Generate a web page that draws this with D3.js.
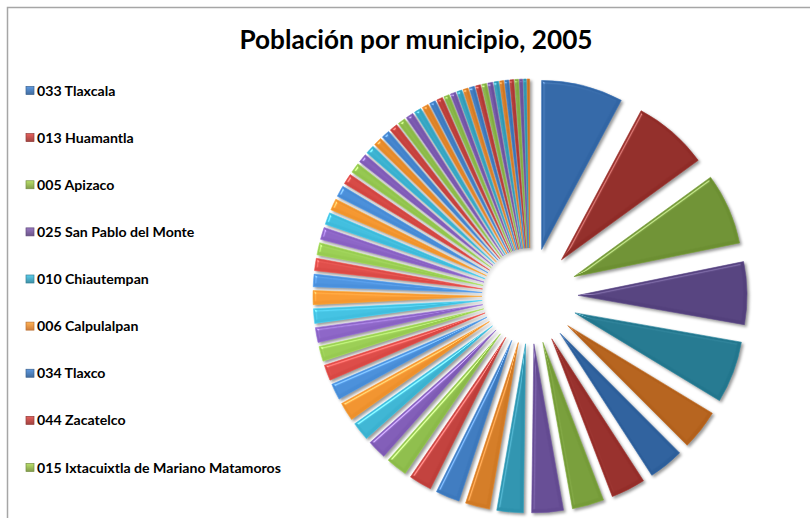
<!DOCTYPE html>
<html>
<head>
<meta charset="utf-8">
<script src="https://cdn.jsdelivr.net/npm/d3@7/dist/d3.min.js"></script>
<style>
  html, body { margin: 0; padding: 0; background: #fff; }
  svg { display: block; }
</style>
</head>
<body>
<script>
// ---- DATA (Tlaxcala, población por municipio, 2005) ----
const categories = [
  "033 Tlaxcala", "013 Huamantla", "005 Apizaco", "025 San Pablo del Monte", "010 Chiautempan",
  "006 Calpulalpan", "034 Tlaxco", "044 Zacatelco", "015 Ixtacuixtla de Mariano Matamoros",
  "018 Contla de Juan Cuamatzi", "043 Yauhquemehcan", "031 Tetla de la Solidaridad",
  "041 Papalotla de Xicohténcatl", "024 Panotla", "023 Nativitas", "036 Totolac", "028 Teolocholco",
  "039 Xaloztoc", "019 Tepetitla de Lardizábal", "021 Nanacamilpa de Mariano Arista",
  "048 La Magdalena Tlaltelulco", "026 Santa Cruz Tlaxcala", "004 Atltzayanca",
  "007 El Carmen Tequexquitla", "014 Hueyotlipan", "030 Terrenate", "008 Cuapiaxtla",
  "038 Tzompantepec", "002 Apetatitlán de Antonio Carvajal", "042 Xicohtzinco", "032 Tetlatlahuca",
  "027 Tenancingo", "029 Tepeyanco", "050 San Francisco Tetlanohcan", "040 Xaltocan",
  "001 Amaxac de Guerrero", "017 Mazatecochco de José María Morelos",
  "037 Ziltlaltépec de Trinidad Sánchez Santos", "020 Sanctórum de Lázaro Cárdenas", "012 Españita",
  "058 Santa Catarina Ayometla", "016 Ixtenco", "053 San Juan Huactzinco", "056 Santa Ana Nopalucan",
  "059 Santa Cruz Quilehtla", "003 Atlangatepec", "045 Benito Juárez", "052 San José Teacalco",
  "022 Acuamanala de Miguel Hidalgo", "049 San Damián Texóloc", "035 Tocatlán",
  "054 San Lorenzo Axocomanitla", "009 Cuaxomulco", "057 Santa Apolonia Teacalco",
  "011 Muñoz de Domingo Arenas", "046 Emiliano Zapata", "060 Santa Isabel Xiloxoxtla",
  "051 San Jerónimo Zacualpan", "055 San Lucas Tecopilco", "047 Lázaro Cárdenas"
];
const population = [
  83748, 77076, 73097, 64107, 63300, 41196, 36077, 35316, 32540, 32341,
  27005, 24995, 24616, 23391, 21863, 19606, 19066, 19037, 16653, 15994,
  15256, 15224, 14889, 14289, 12813, 12575, 12498, 12497, 12268, 11794,
  11473, 10879, 10302, 9081, 8963, 8567, 8357, 8174, 7789, 7695,
  7307, 6576, 6279, 6207, 5644, 5387, 5205, 5155, 5129, 4951,
  4893, 4817, 4710, 4030, 4017, 3892, 3803, 3213, 2907, 2548
];
const legendShown = 9; // the legend box only shows the first nine entries
const titleText = "Población por municipio, 2005";

// Excel-like palette: base (legend), shade on dark side and lit side
const paletteBase  = ["#4F81BD", "#C0504D", "#9BBB59", "#8064A2", "#4BACC6", "#F79646"];
const paletteDark  = ["#2A5A95", "#8A2925", "#6C8F32", "#53407C", "#22768D", "#B05E1A"];
const paletteLight = ["#4A90DC", "#DC4A46", "#98CC52", "#8A62C4", "#40BEDE", "#F5972F"];

// ---- LAYOUT ----
const W = 810, H = 518;
const cx = 530, cy = 296, R = 169, explode = 48;

const svg = d3.select("body").append("svg").attr("width", W).attr("height", H);

const defs = svg.append("defs");
const f = defs.append("filter").attr("id", "bevel")
  .attr("x", "-30%").attr("y", "-30%").attr("width", "160%").attr("height", "160%")
  .attr("color-interpolation-filters", "sRGB");
f.append("feGaussianBlur").attr("in", "SourceAlpha").attr("stdDeviation", 1.4).attr("result", "blur");
const spec = f.append("feSpecularLighting").attr("in", "blur").attr("surfaceScale", 2.5)
  .attr("specularConstant", 0.6).attr("specularExponent", 30).attr("lighting-color", "#ffffff").attr("result", "spec");
spec.append("feDistantLight").attr("azimuth", 225).attr("elevation", 40);
f.append("feComposite").attr("in", "spec").attr("in2", "SourceAlpha").attr("operator", "in").attr("result", "specIn");
f.append("feComposite").attr("in", "SourceGraphic").attr("in2", "specIn").attr("operator", "arithmetic")
  .attr("k1", 0).attr("k2", 1).attr("k3", 0.6).attr("k4", 0).attr("result", "lit");
f.append("feGaussianBlur").attr("in", "SourceAlpha").attr("stdDeviation", 1.8).attr("result", "sblur");
f.append("feOffset").attr("in", "sblur").attr("dx", 1.5).attr("dy", 1.8).attr("result", "soff");
f.append("feFlood").attr("flood-color", "#000").attr("flood-opacity", 0.4).attr("result", "sc");
f.append("feComposite").attr("in", "sc").attr("in2", "soff").attr("operator", "in").attr("result", "shadow");
const mg = f.append("feMerge");
mg.append("feMergeNode").attr("in", "shadow");
mg.append("feMergeNode").attr("in", "lit");

// chart frame (only top and left edges are visible in the picture)
svg.append("path")
  .attr("d", `M7.5,${H} L7.5,7.5 L${W},7.5`)
  .attr("fill", "none").attr("stroke", "#a6a6a6").attr("stroke-width", 1.5);

// title
svg.append("text")
  .attr("x", 416).attr("y", 49)
  .attr("text-anchor", "middle")
  .attr("font-family", "Lato, 'Open Sans', sans-serif")
  .attr("font-weight", 700).attr("font-size", 26.5)
  .attr("textLength", 353).attr("lengthAdjust", "spacingAndGlyphs")
  .attr("fill", "#000")
  .text(titleText);

// ---- PIE ----
const data = categories.map((c, i) => ({ name: c, value: population[i], i }));
const pie = d3.pie().value(d => d.value).sort(null).startAngle(0).endAngle(2 * Math.PI);
const arc = d3.arc().innerRadius(0).outerRadius(R);
const arcs = pie(data);

function sliceColor(d) {
  const k = d.data.i % 6;
  const mid = (d.startAngle + d.endAngle) / 2;
  const t = Math.pow((1 - Math.sin(mid)) / 2, 1.6);
  return d3.interpolateRgb(paletteDark[k], paletteLight[k])(t);
}

const g = svg.append("g").attr("transform", `translate(${cx},${cy})`).attr("filter", "url(#bevel)");
g.selectAll("path.slice")
  .data(arcs)
  .join("path")
  .attr("class", "slice")
  .attr("d", arc)
  .attr("transform", d => {
    const mid = (d.startAngle + d.endAngle) / 2;
    return `translate(${explode * Math.sin(mid)},${-explode * Math.cos(mid)})`;
  })
  .attr("fill", sliceColor)
  .attr("stroke", d => d3.color(sliceColor(d)).brighter(0.35))
  .attr("stroke-width", 0.6);

// ---- LEGEND ----
const legendY = d3.scalePoint()
  .domain(d3.range(legendShown))
  .range([91, 468]);

const lg = svg.append("g");
const items = lg.selectAll("g.item")
  .data(data.slice(0, legendShown))
  .join("g").attr("class", "item")
  .attr("transform", d => `translate(26,${legendY(d.i)})`);

const grad = defs.selectAll("linearGradient.lgd")
  .data(paletteBase).join("linearGradient")
  .attr("class", "lgd").attr("id", (c, i) => "lgd" + i)
  .attr("x1", 0).attr("y1", 0).attr("x2", 0).attr("y2", 1);
grad.append("stop").attr("offset", 0).attr("stop-color", c => d3.color(c).brighter(0.5));
grad.append("stop").attr("offset", 1).attr("stop-color", c => d3.color(c).darker(0.5));

items.append("rect")
  .attr("x", 0).attr("y", -4.5).attr("width", 8).attr("height", 8)
  .attr("fill", d => `url(#lgd${d.i % 6})`)
  .attr("stroke", d => d3.color(paletteBase[d.i % 6]).darker(0.8))
  .attr("stroke-width", 0.7);

const texts = items.append("text")
  .attr("x", 11).attr("y", 4.5)
  .attr("font-family", "Lato, 'Open Sans', sans-serif")
  .attr("font-weight", 700).attr("font-size", 13)
  .attr("fill", "#000")
  .text(d => d.name);

// fit font size so the longest legend entry has the original's width (~244px)
let maxW = 0;
texts.each(function() { maxW = Math.max(maxW, this.getComputedTextLength()); });
texts.attr("font-size", (13 * 244 / maxW).toFixed(2));
</script>
</body>
</html>
